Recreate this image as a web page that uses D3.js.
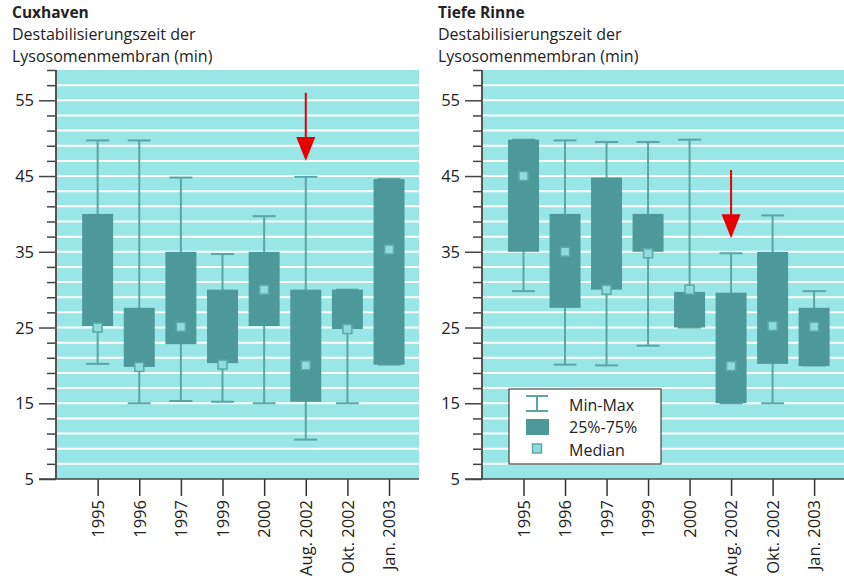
<!DOCTYPE html>
<html>
<head>
<meta charset="utf-8">
<script src="https://cdn.jsdelivr.net/npm/d3@7"></script>
<style>
  body { margin: 0; background: #fff; }
  text { font-family: "Open Sans", sans-serif; fill: #222; }
</style>
</head>
<body>
<script>
var categories = ["1995", "1996", "1997", "1999", "2000", "Aug. 2002", "Okt. 2002", "Jan. 2003"];
var yTicks = [5, 15, 25, 35, 45, 55];

// Cuxhaven
var cuxMin    = [20.2, 15.0, 15.3, 15.2, 15.0, 10.2, 15.0, 20.1];
var cuxQ1     = [25.2, 19.8, 22.8, 20.3, 25.2, 15.2, 24.8, 20.1];
var cuxMedian = [25.0, 19.8, 25.1, 20.1, 30.0, 20.0, 24.8, 35.3];
var cuxQ3     = [40.0, 27.6, 35.0, 30.0, 35.0, 30.0, 30.0, 44.6];
var cuxMax    = [49.7, 49.7, 44.8, 34.7, 39.7, 44.9, 30.0, 44.6];

// Tiefe Rinne
var trMin    = [29.8, 20.1, 20.0, 22.6, 25.0, 15.0, 15.0, 20.0];
var trQ1     = [35.0, 27.6, 30.0, 35.0, 25.0, 15.0, 20.2, 19.9];
var trMedian = [45.0, 35.0, 30.0, 34.8, 30.0, 19.9, 25.2, 25.1];
var trQ3     = [49.8, 40.0, 44.8, 40.0, 29.7, 29.6, 35.0, 27.6];
var trMax    = [49.8, 49.7, 49.5, 49.5, 49.8, 34.8, 39.8, 29.8];

// red arrows (category, from value, to value)
var cuxArrow = ["Aug. 2002", 56.0, 47.0];
var trArrow  = ["Aug. 2002", 45.8, 36.8];

var subtitle = ["Destabilisierungszeit der", "Lysosomenmembran (min)"];

var width = 844, height = 579;
var bg = "#99e6e6", boxCol = "#4d9999", whiskCol = "#5aa5a5";

var svg = d3.select("body").append("svg")
    .attr("width", width)
    .attr("height", height);

function rows(mn, q1, md, q3, mx) {
    return categories.map(function(c, i) {
        return {cat: c, min: mn[i], q1: q1[i], median: md[i], q3: q3[i], max: mx[i]};
    });
}

function drawPanel(x0, x1, title, data, arrow, legend) {
    var y = d3.scaleLinear().domain([5, 59]).range([479, 70]);
    var step = (x1 - x0) / 8.72;
    var x = d3.scalePoint().domain(categories).range([x0 + step, x0 + step * 8]);

    var g = svg.append("g");

    g.append("text").attr("x", x0 - 44).attr("y", 18)
        .style("font-weight", "bold").style("font-size", "15.5px").text(title);
    subtitle.forEach(function(s, i) {
        g.append("text").attr("x", x0 - 44).attr("y", 40 + i * 22)
            .style("font-size", "16px").text(s);
    });

    g.append("rect").attr("x", x0).attr("y", y(59))
        .attr("width", x1 - x0).attr("height", y(5) - y(59))
        .attr("fill", bg);

    // white grid lines every 2 units
    g.selectAll(".grid").data(d3.range(7, 58, 2)).enter().append("line")
        .attr("x1", x0).attr("x2", x1)
        .attr("y1", function(d) { return y(d); })
        .attr("y2", function(d) { return y(d); })
        .attr("stroke", "#fff").attr("stroke-width", 2);

    // y axis
    var ya = g.append("g").attr("transform", "translate(" + x0 + ",0)")
        .call(d3.axisLeft(y).tickValues(d3.range(5, 60, 2)).tickSize(9).tickFormat(""));
    ya.select(".domain").remove();
    ya.selectAll("line").attr("stroke", "#444").attr("stroke-width", 1.5);
    ya.selectAll(".tick").filter(function(d) { return yTicks.indexOf(d) >= 0; })
        .select("line").attr("x2", -17);
    yTicks.forEach(function(t) {
        g.append("text").attr("x", x0 - 22).attr("y", y(t) + 6)
            .attr("text-anchor", "end").style("font-size", "16.5px").text(t);
    });
    g.append("line").attr("x1", x0).attr("x2", x0).attr("y1", y(59)).attr("y2", y(5))
        .attr("stroke", "#555").attr("stroke-width", 2);

    // x axis
    var xa = g.append("g").attr("transform", "translate(0," + y(5) + ")")
        .call(d3.axisBottom(x).tickSize(17).tickSizeOuter(0));
    xa.select(".domain").remove();
    xa.selectAll("line").attr("stroke", "#333").attr("stroke-width", 1.5);
    xa.selectAll("text")
        .attr("transform", "rotate(-90)")
        .attr("text-anchor", "end")
        .attr("x", -21).attr("y", 0).attr("dy", "0.35em")
        .style("font-size", "16.5px").style("font-family", "'Open Sans', sans-serif").attr("fill", "#222");
    g.append("line").attr("x1", x0 - 17).attr("x2", x1).attr("y1", y(5)).attr("y2", y(5))
        .attr("stroke", "#444").attr("stroke-width", 1.5);

    var boxes = g.selectAll(".box").data(data).enter().append("g")
        .attr("transform", function(d) { return "translate(" + x(d.cat) + ",0)"; });

    boxes.append("line")
        .attr("y1", function(d) { return y(d.min); })
        .attr("y2", function(d) { return y(d.max); })
        .attr("stroke", whiskCol).attr("stroke-width", 2);
    boxes.append("line").attr("x1", -11.5).attr("x2", 11.5)
        .attr("y1", function(d) { return y(d.max); })
        .attr("y2", function(d) { return y(d.max); })
        .attr("stroke", whiskCol).attr("stroke-width", 2);
    boxes.append("line").attr("x1", -11.5).attr("x2", 11.5)
        .attr("y1", function(d) { return y(d.min); })
        .attr("y2", function(d) { return y(d.min); })
        .attr("stroke", whiskCol).attr("stroke-width", 2);
    boxes.append("rect").attr("x", -15.5).attr("width", 31)
        .attr("y", function(d) { return y(d.q3); })
        .attr("height", function(d) { return y(d.q1) - y(d.q3); })
        .attr("fill", boxCol);
    boxes.append("rect").attr("x", -4.5).attr("width", 9).attr("height", 9)
        .attr("y", function(d) { return y(d.median) - 4.5; })
        .attr("fill", "#8fdcdc").attr("stroke", "#5aa9a9").attr("stroke-width", 1.5);

    // arrow
    var ax = x(arrow[0]);
    g.append("line").attr("x1", ax).attr("x2", ax)
        .attr("y1", y(arrow[1])).attr("y2", y(arrow[2]) - 20)
        .attr("stroke", "#e80000").attr("stroke-width", 2);
    g.append("path")
        .attr("d", "M" + (ax - 9.5) + "," + (y(arrow[2]) - 24) + "L" + (ax + 9.5) + "," + (y(arrow[2]) - 24) +
            "L" + ax + "," + y(arrow[2]) + "Z")
        .attr("fill", "#e80000");

    if (legend) {
        var lg = g.append("g").attr("transform", "translate(" + (x0 + 27) + ",389)");
        lg.append("rect").attr("width", 152).attr("height", 75)
            .attr("fill", "#fff").attr("stroke", "#222").attr("stroke-width", 1);
        lg.append("line").attr("x1", 28).attr("x2", 28).attr("y1", 7).attr("y2", 22)
            .attr("stroke", whiskCol).attr("stroke-width", 2);
        lg.append("line").attr("x1", 17).attr("x2", 39).attr("y1", 7).attr("y2", 7)
            .attr("stroke", whiskCol).attr("stroke-width", 2);
        lg.append("line").attr("x1", 17).attr("x2", 39).attr("y1", 22).attr("y2", 22)
            .attr("stroke", whiskCol).attr("stroke-width", 2);
        lg.append("rect").attr("x", 17).attr("y", 30).attr("width", 23).attr("height", 16)
            .attr("fill", boxCol);
        lg.append("rect").attr("x", 23.5).attr("y", 55).attr("width", 9).attr("height", 9)
            .attr("fill", "#8fdcdc").attr("stroke", "#5aa9a9").attr("stroke-width", 1.5);
        var labels = ["Min-Max", "25%-75%", "Median"];
        labels.forEach(function(l, i) {
            lg.append("text").attr("x", 60).attr("y", 21.5 + i * 22.5)
                .style("font-size", "16px").text(l);
        });
    }
}

drawPanel(56, 419, "Cuxhaven", rows(cuxMin, cuxQ1, cuxMedian, cuxQ3, cuxMax), cuxArrow, false);
drawPanel(482, 844, "Tiefe Rinne", rows(trMin, trQ1, trMedian, trQ3, trMax), trArrow, true);
</script>
</body>
</html>
